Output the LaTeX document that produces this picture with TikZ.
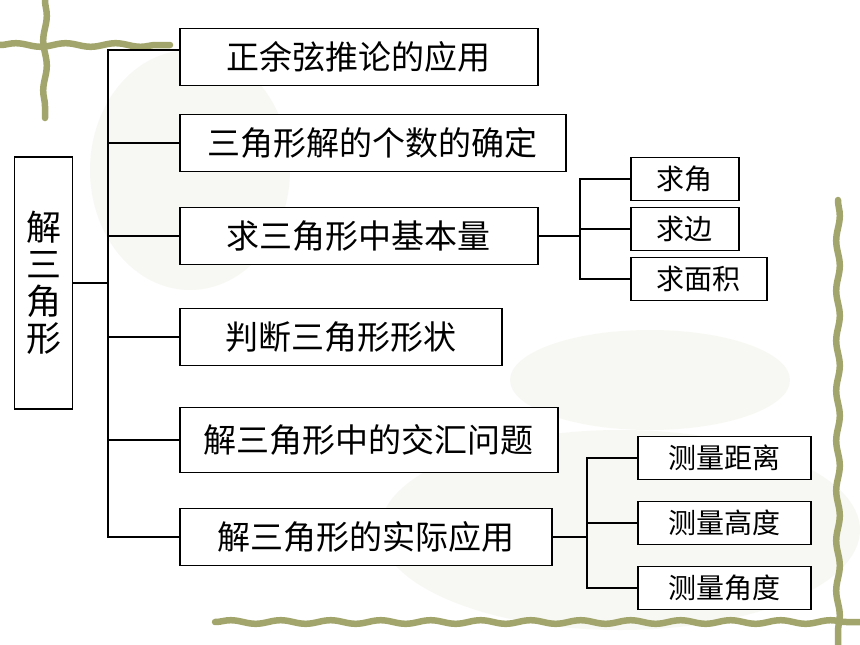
\documentclass[tikz,border=0pt]{standalone}
\usepackage{fontspec}
\setmainfont{Noto Sans CJK SC}
\usepackage{tikz}
\usetikzlibrary{positioning,calc,decorations.pathmorphing}
\definecolor{vine}{RGB}{163,166,108}
\tikzset{
	chart/.style={x=1pt,y=-1pt,line width=1.9pt},
	topic/.style={draw,rectangle,fill=white,inner sep=0pt,anchor=west,
		minimum height=57pt,font=\fontsize{33}{36}\selectfont},
	subtopic/.style={draw,rectangle,fill=white,inner sep=0pt,anchor=west,
		minimum height=43pt,font=\fontsize{28}{30}\selectfont},
	rootbox/.style={draw,rectangle,fill=white,inner sep=0pt,
		minimum width=58pt,minimum height=252pt,align=center,
		font=\fontsize{35}{37}\selectfont},
	vineline/.style={draw=vine,line width=6.5pt,line cap=round,
		decorate,decoration={snake,segment length=50pt,amplitude=1.8pt}},
	haze/.style={fill=vine,opacity=0.08}
}

\begin{document}
\begin{tikzpicture}[chart]
	\useasboundingbox (0,0) rectangle (860,645);
	\fill[white] (0,0) rectangle (860,645);
	
	% background
	\fill[haze] (190,170) ellipse (100 and 120);
	\fill[haze] (620,530) ellipse (240 and 100);
	\fill[haze] (650,380) ellipse (140 and 50);
	\path[vineline] (0,45) -- (170,45);
	\path[vineline] (45,0) -- (45,118);
	\path[vineline] (215,622) -- (860,622);
	\path[vineline] (838,200) -- (838,645);
	
	\node[rootbox] (root) at (43.5,283) {解\\三\\角\\形};
	
	\node[topic, minimum width=358pt] (law) at (179,57) {正余弦推论的应用};
	\node[topic, minimum width=386pt] (count) at (179,143) {三角形解的个数的确定};
	\node[topic, minimum width=358pt] (basic) at (179,236) {求三角形中基本量};
	\node[topic, minimum width=322pt] (shape) at (179,337) {判断三角形形状};
	\node[topic, minimum width=378pt, minimum height=65pt] (mix) at (179,440) {解三角形中的交汇问题};
	\node[topic, minimum width=372pt] (apply) at (179,537) {解三角形的实际应用};
	
	\node[subtopic, minimum width=108pt] (angle) at (630,179) {求角};
	\node[subtopic, minimum width=108pt] (side) at (630,229) {求边};
	\node[subtopic, minimum width=136pt] (area) at (630,279) {求面积};
	
	\node[subtopic, minimum width=173pt] (dist) at (637,458) {测量距离};
	\node[subtopic, minimum width=173pt] (height) at (637,523) {测量高度};
	\node[subtopic, minimum width=173pt] (ang) at (637,588) {测量角度};
	
	\coordinate (trunk) at (108,279);
	\coordinate (fork1) at (580,236);
	\coordinate (fork2) at (587,523);
	\coordinate (lawin) at ($(law.west)+(0,-7)$);
	
	\draw (root.east) -- (root.east -| trunk);
	\draw (lawin) -- (lawin -| trunk) -- (apply.west -| trunk) -- (apply.west);
	\draw (count.west) -- (count.west -| trunk);
	\draw (basic.west) -- (basic.west -| trunk);
	\draw (shape.west) -- (shape.west -| trunk);
	\draw (mix.west) -- (mix.west -| trunk);
	
	\draw (basic.east) -- (basic.east -| fork1);
	\draw (angle.west) -- (angle.west -| fork1) -- (area.west -| fork1) -- (area.west);
	\draw (side.west) -- (side.west -| fork1);
	
	\draw (apply.east) -- (apply.east -| fork2);
	\draw (dist.west) -- (dist.west -| fork2) -- (ang.west -| fork2) -- (ang.west);
	\draw (height.west) -- (height.west -| fork2);
	
\end{tikzpicture}
\end{document}
